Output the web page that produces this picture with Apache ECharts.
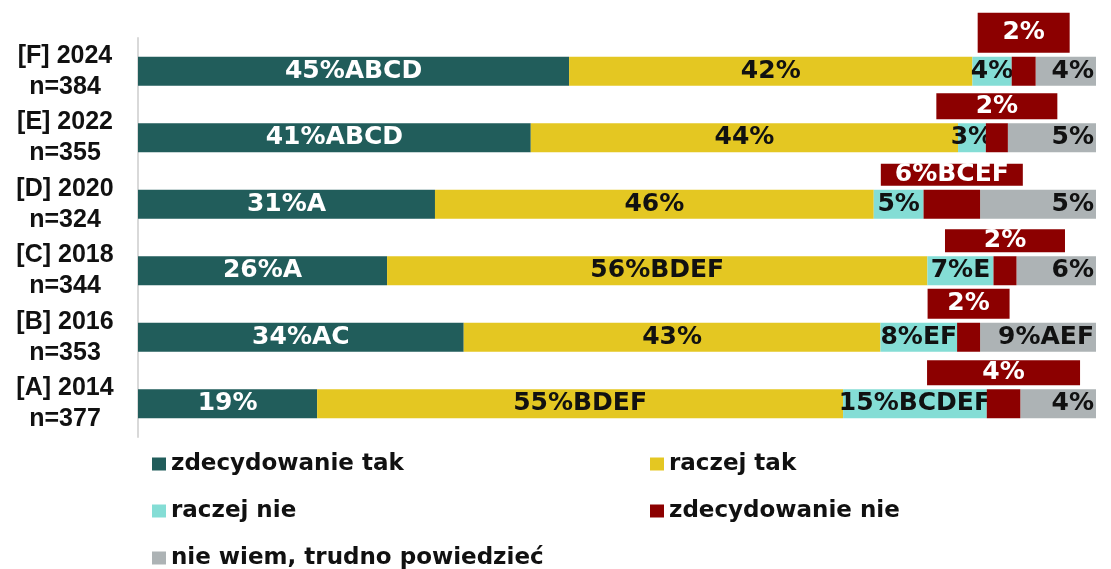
<!DOCTYPE html>
<html>
<head>
<meta charset="utf-8">
<script src="https://cdn.jsdelivr.net/npm/echarts@6/dist/echarts.min.js"></script>
<style>
html,body{margin:0;padding:0;background:#fff;}
#chart{width:1111px;height:569px;}
</style>
</head>
<body>
<div id="chart"></div>
<script>
// ---- data (A..F, bottom to top) ----
const categories = ['[A] 2014', '[B] 2016', '[C] 2018', '[D] 2020', '[E] 2022', '[F] 2024'];
const sampleSizes = ['n=377', 'n=353', 'n=344', 'n=324', 'n=355', 'n=384'];
const seriesNames = ['zdecydowanie tak', 'raczej tak', 'raczej nie', 'zdecydowanie nie', 'nie wiem, trudno powiedzieć'];

const zdecydowanieTak = [18.7, 34.0, 26.0, 31.0, 41.0, 45.0];
const raczejTak       = [54.9, 43.5, 56.4, 45.8, 44.6, 42.1];
const raczejNie       = [15.0, 8.0, 6.9, 5.2, 2.9, 4.1];
const zdecydowanieNie = [3.5, 2.4, 2.4, 5.9, 2.3, 2.5];
const nieWiem         = [7.9, 12.1, 8.3, 12.1, 9.2, 6.3];

const zdecydowanieTakLabels = ['19%', '34%AC', '26%A', '31%A', '41%ABCD', '45%ABCD'];
const raczejTakLabels       = ['55%BDEF', '43%', '56%BDEF', '46%', '44%', '42%'];
const raczejNieLabels       = ['15%BCDEF', '8%EF', '7%E', '5%', '3%', '4%'];
const zdecydowanieNieLabels = ['4%', '2%', '2%', '6%BCEF', '2%', '2%'];
const nieWiemLabels         = ['4%', '9%AEF', '6%', '5%', '5%', '4%'];

// ---- styles ----
const colors = ['#215D5B', '#E4C722', '#84DDD5', '#8C0000', '#ADB3B5'];
const redBoxWidths  = [153, 82, 120, 142, 121, 92];
const redBoxHeights = [25, 30, 23, 22, 26, 40];
const labelFont = { fontFamily: 'DejaVu Sans', fontWeight: 'bold', fontSize: 25 };

function insideLabel(texts, color, position, distance) {
  return Object.assign({
    show: true,
    position: position || 'inside',
    distance: distance || 5,
    color: color,
    formatter: p => texts[p.dataIndex]
  }, labelFont);
}

const chart = echarts.init(document.getElementById('chart'));

const series = [
  { name: seriesNames[0], data: zdecydowanieTak, label: insideLabel(zdecydowanieTakLabels, '#ffffff') },
  { name: seriesNames[1], data: raczejTak, label: insideLabel(raczejTakLabels, '#111111') },
  { name: seriesNames[2], data: raczejNie, label: insideLabel(raczejNieLabels, '#111111') },
  {
    name: seriesNames[3],
    data: zdecydowanieNie.map((v, i) => ({
      value: v,
      label: { width: redBoxWidths[i], height: redBoxHeights[i], lineHeight: redBoxHeights[i] }
    })),
    label: Object.assign({
      show: true,
      position: 'top',
      distance: 4,
      color: '#ffffff',
      backgroundColor: '#8C0000',
      align: 'center',
      padding: 0,
      formatter: p => zdecydowanieNieLabels[p.dataIndex]
    }, labelFont)
  },
  { name: seriesNames[4], data: nieWiem, label: insideLabel(nieWiemLabels, '#111111', 'insideRight', 2) }
].map((s, i) => Object.assign({
  type: 'bar',
  stack: 'total',
  barWidth: 29,
  itemStyle: { color: colors[i] },
  emphasis: { disabled: true },
  z: i === 3 ? 3 : 2
}, s));

const legendPos = [
  { left: 152, top: 451 },
  { left: 650, top: 451 },
  { left: 152, top: 498 },
  { left: 650, top: 498 },
  { left: 152, top: 545 }
];

const legends = seriesNames.map((n, i) => ({
  data: [n],
  left: legendPos[i].left,
  top: legendPos[i].top,
  padding: 0,
  icon: 'rect',
  itemWidth: 14,
  itemHeight: 13,
  itemGap: 5,
  selectedMode: false,
  textStyle: { fontFamily: 'DejaVu Sans', fontWeight: 'bold', fontSize: 23, color: '#111111', lineHeight: 26 }
}));

chart.setOption({
  animation: false,
  color: colors,
  grid: { left: 138, right: 15, top: 38, bottom: 132, containLabel: false },
  xAxis: {
    type: 'value', min: 0, max: 100, show: false
  },
  yAxis: {
    type: 'category',
    data: categories,
    axisLine: { show: true, lineStyle: { color: '#D9D9D9', width: 2 } },
    axisTick: { show: false },
    splitLine: { show: false },
    axisLabel: {
      interval: 0,
      margin: 73,
      align: 'center',
      fontFamily: 'Liberation Sans',
      fontWeight: 'bold',
      fontSize: 25,
      lineHeight: 31,
      color: '#111111',
      formatter: (v, i) => v + '\n' + sampleSizes[i]
    }
  },
  legend: legends,
  series: series
});
</script>
</body>
</html>
